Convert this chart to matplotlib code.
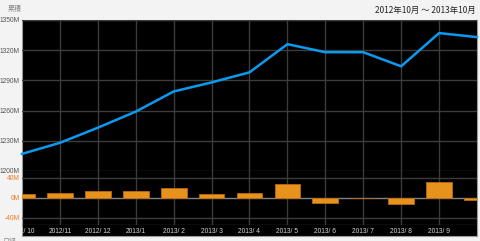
import numpy as np
import matplotlib.pyplot as plt

plt.rcParams['font.family'] = ['Noto Sans CJK JP', 'DejaVu Sans']

# data
months = ["2012/ 10", "2012/11", "2012/ 12", "2013/1", "2013/ 2", "2013/ 3", "2013/ 4",
          "2013/ 5", "2013/ 6", "2013/ 7", "2013/ 8", "2013/ 9", ""]
cumulative = [1217, 1228, 1243, 1259, 1279, 1288, 1298, 1326, 1318, 1318, 1304, 1337, 1333]
monthly = [7, 9, 14, 14, 19, 8, 9, 27, -10, 0, -13, 32, -5]
top_ticks = [1200, 1230, 1260, 1290, 1320, 1350]
bottom_ticks = [-40, 0, 40]

W, H = 480, 241
fig = plt.figure(figsize=(4.8, 2.41), dpi=100)
fig.patch.set_facecolor('#f3f3f3')

def box(x0, y0, x1, y1):
    # pixel box (top-left origin) -> figure fraction
    return [x0 / W, 1 - y1 / H, (x1 - x0) / W, (y1 - y0) / H]

grid_c = '#3c3c3c'
label_c = '#555555'
orange_txt = '#f07a20'
x = np.arange(len(months))

# black background for the whole plot block
bg = fig.add_axes(box(22, 20, 477, 236))
bg.set_facecolor('black')
bg.set_xticks([]); bg.set_yticks([])
for s in bg.spines.values():
    s.set_color('#9a9a9a'); s.set_linewidth(0.8)

# upper: cumulative line
ax1 = fig.add_axes(box(22, 20, 477, 171))
ax1.patch.set_alpha(0)
ax1.set_xlim(0, 12)
ax1.set_ylim(1200, 1350)
for v in top_ticks:
    ax1.axhline(v, color=grid_c, lw=1.0, zorder=1)
for i in x[1:-1]:
    ax1.axvline(i, color=grid_c, lw=1.0, zorder=1)
ax1.plot(x, cumulative, color='#0a9bf0', lw=1.8, zorder=3, clip_on=False)
ax1.set_xticks([])
ax1.set_yticks(top_ticks)
ax1.set_yticklabels([f"{v}M" for v in top_ticks], fontsize=4.8, color=label_c,
                    family=['Liberation Sans'])
ax1.tick_params(axis='y', length=0, pad=1.5)
for s in ax1.spines.values():
    s.set_visible(False)

# lower: monthly bars
ax2 = fig.add_axes(box(22, 171, 477, 225))
ax2.patch.set_alpha(0)
ax2.set_xlim(0, 12)
ax2.set_ylim(-54, 53)
for v in [-40, 40]:
    ax2.axhline(v, color=grid_c, lw=1.0, zorder=1)
ax2.axhline(-53.5, color=grid_c, lw=1.0, zorder=1)
for i in x[1:-1]:
    ax2.axvline(i, color=grid_c, lw=1.0, zorder=1)
ax2.axhline(0, color='#808080', lw=1.0, zorder=2)
ax2.bar(x, monthly, width=0.68, color='#e8921e', edgecolor='#b86a10', lw=0.6, zorder=3)
ax2.set_xticks([])
ax2.set_yticks(bottom_ticks)
ax2.set_yticklabels([f"{v}M" for v in bottom_ticks], fontsize=4.8, color=orange_txt,
                    family=['Liberation Sans'])
ax2.tick_params(axis='y', length=0, pad=1.5)
for s in ax2.spines.values():
    s.set_visible(False)

# x labels band
ax3 = fig.add_axes(box(22, 225, 477, 236))
ax3.patch.set_alpha(0)
ax3.set_xlim(0, 12)
ax3.set_ylim(0, 1)
ax3.axis('off')
for i, m in enumerate(months):
    if m:
        ax3.text(i, 0.45, m, ha='center', va='center', fontsize=4.8, color='#d8d8d8',
                 family=['Liberation Sans'], clip_on=True)

fig.text(15 / W, 1 - 9 / H, "累積", ha='center', va='center', fontsize=5, color='#888888')
fig.text(3 / W, 1 - 242 / H, "日経", ha='left', va='center', fontsize=5, color='#888888')
fig.text(476 / W, 1 - 10 / H, "2012年10月 〜 2013年10月", ha='right', va='center',
         fontsize=6, color='#222222')

fig.savefig('out.png', dpi=100, facecolor=fig.get_facecolor())
